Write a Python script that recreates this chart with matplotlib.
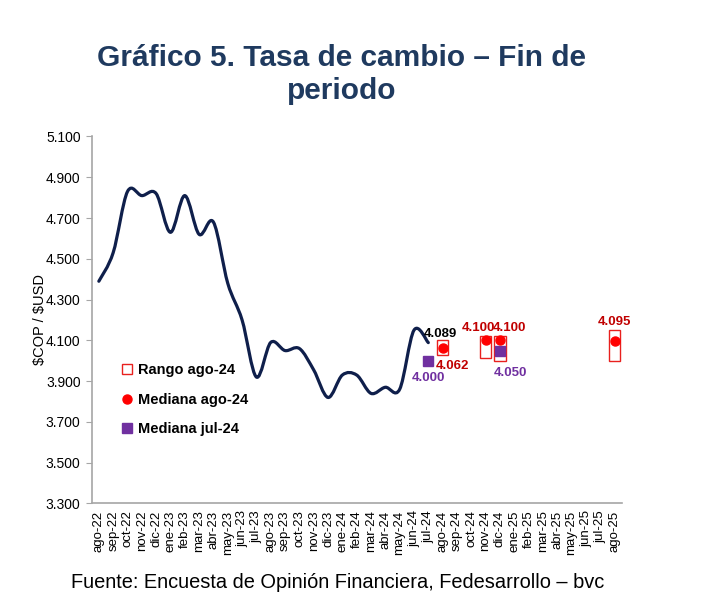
import matplotlib.pyplot as plt
import numpy as np
from matplotlib.path import Path
from matplotlib.patches import PathPatch

plt.rcParams['font.family'] = ['Liberation Sans', 'DejaVu Sans']

# Category axis: ago-22 .. ago-25
months = ['ago-22', 'sep-22', 'oct-22', 'nov-22', 'dic-22', 'ene-23', 'feb-23', 'mar-23',
          'abr-23', 'may-23', 'jun-23', 'jul-23', 'ago-23', 'sep-23', 'oct-23', 'nov-23',
          'dic-23', 'ene-24', 'feb-24', 'mar-24', 'abr-24', 'may-24', 'jun-24', 'jul-24',
          'ago-24', 'sep-24', 'oct-24', 'nov-24', 'dic-24', 'ene-25', 'feb-25', 'mar-25',
          'abr-25', 'may-25', 'jun-25', 'jul-25', 'ago-25']

# Observed exchange rate (thousand COP per USD), end of month ago-22 .. jul-24
trm = [4.39, 4.53, 4.83, 4.81, 4.82, 4.63, 4.81, 4.62, 4.68, 4.38, 4.20, 3.92,
       4.09, 4.05, 4.06, 3.955, 3.82, 3.93, 3.93, 3.84, 3.87, 3.86, 4.15, 4.089]

# Survey of ago-24: median and range per forecast horizon
survey_months = ['ago-24', 'nov-24', 'dic-24', 'ago-25']
median_ago = [4.062, 4.100, 4.100, 4.095]
range_low = [4.030, 4.015, 4.000, 4.000]
range_high = [4.100, 4.120, 4.120, 4.150]

# Survey of jul-24: median
jul_months = ['jul-24', 'dic-24']
median_jul = [4.000, 4.050]

navy = '#0f1f4b'
red = '#ff0000'
dark_red = '#c00000'
purple = '#7030a0'

fig = plt.figure(figsize=(7.14, 6.12), dpi=100)
ax = fig.add_axes([0.1284, 0.1773, 0.7423, 0.5997])

x_trm = np.arange(len(trm))
pts = np.column_stack([x_trm, trm])


def smooth_path(p):
    # Excel-style smooth line: Catmull-Rom segments as cubic Bezier curves
    ext = np.vstack([p[0], p, p[-1]])
    verts = [p[0]]
    codes = [Path.MOVETO]
    for i in range(1, len(ext) - 2):
        p0, p1, p2, p3 = ext[i - 1], ext[i], ext[i + 1], ext[i + 2]
        verts += [p1 + (p2 - p0) / 6, p2 - (p3 - p1) / 6, p2]
        codes += [Path.CURVE4] * 3
    return Path(verts, codes)


ax.add_patch(PathPatch(smooth_path(pts), facecolor='none', edgecolor=navy,
                       lw=2.3, capstyle='round', joinstyle='round', zorder=3))

idx = {m: i for i, m in enumerate(months)}
xs = [idx[m] for m in survey_months]
xj = [idx[m] for m in jul_months]

bars = ax.bar(xs, np.array(range_high) - np.array(range_low), bottom=range_low,
              width=0.8, facecolor='none', edgecolor='#e8201e', lw=1.0, zorder=2,
              label='Rango ago-24')
dots, = ax.plot(xs, median_ago, 'o', color=red, ms=6.5, ls='none', zorder=5,
                label='Mediana ago-24')
squares, = ax.plot(xj, median_jul, 's', color=purple, ms=7.5, ls='none', zorder=4,
                   label='Mediana jul-24')

lbl = dict(fontsize=9.5, fontweight='bold', ha='center', va='center',
           textcoords='offset pixels')
ax.annotate(f'{trm[-1]:.3f}', (x_trm[-1], trm[-1]), xytext=(12, 9), color='black', **lbl)
ago_off = [(10, -18), (-7, 12), (10, 12), (0, 19)]
for xv, yv, off in zip(xs, median_ago, ago_off):
    ax.annotate(f'{yv:.3f}', (xv, yv), xytext=off, color=dark_red, **lbl)
jul_off = [(0, -17), (11, -22)]
for xv, yv, off in zip(xj, median_jul, jul_off):
    ax.annotate(f'{yv:.3f}', (xv, yv), xytext=off, color=purple, **lbl)

ax.set_xlim(-0.5, len(months) - 0.5)
ax.set_ylim(3.3, 5.1)
yt = np.arange(3.3, 5.1001, 0.2)
ax.set_yticks(yt)
ax.set_yticklabels([f'{v:.3f}' for v in yt], fontsize=10)
ax.set_xticks(range(len(months)))
ax.set_xticklabels(months, rotation=90, fontsize=9.5)
ax.tick_params(axis='x', length=0, pad=5)
ax.tick_params(axis='y', length=4, color='#a6a6a6', pad=4)
ax.set_ylabel(r'\$COP / \$USD', fontsize=10.5)
ax.yaxis.set_label_coords(-0.085, 0.5)

for s in ['top', 'right']:
    ax.spines[s].set_visible(False)
for s in ['left', 'bottom']:
    ax.spines[s].set_color('#a6a6a6')
    ax.spines[s].set_linewidth(1.2)

ax.legend(handles=[bars, dots, squares], loc='upper left',
          bbox_to_anchor=(0.057, 0.382), frameon=False, borderpad=0, borderaxespad=0,
          handlelength=0.7, handleheight=0.7, handletextpad=0.4, labelspacing=1.05,
          prop=dict(size=10.5, weight='bold'))

fig.text(0.478, 0.878, 'Gráfico 5. Tasa de cambio – Fin de\nperiodo', ha='center',
         va='center', fontsize=21.5, fontweight='bold', color='#1f3a5f', linespacing=1.2)
fig.text(0.473, 0.049, 'Fuente: Encuesta de Opinión Financiera, Fedesarrollo – bvc',
         ha='center', va='center', fontsize=14.4, color='black')

fig.savefig('out.png', dpi=100)
